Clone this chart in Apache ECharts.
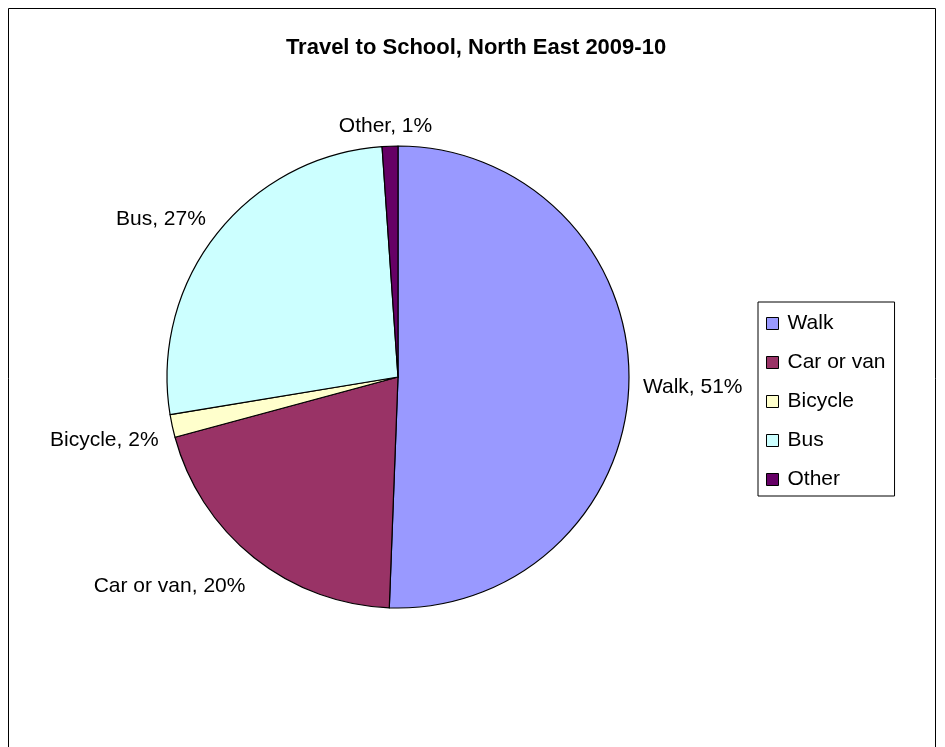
<!DOCTYPE html>
<html>
<head>
<meta charset="utf-8">
<script src="https://cdn.jsdelivr.net/npm/echarts@6/dist/echarts.min.js"></script>
<style>
html,body{margin:0;padding:0;background:#fff;}
#chart{width:945px;height:747px;}
</style>
</head>
<body>
<div id="chart"></div>
<script>
var categories = ['Walk', 'Car or van', 'Bicycle', 'Bus', 'Other'];
var values = [50.6, 20.2, 1.6, 26.5, 1.1];
var colors = ['#9999FF', '#993366', '#FFFFCC', '#CCFFFF', '#660066'];
var titleText = 'Travel to School, North East 2009-10';

var chart = echarts.init(document.getElementById('chart'));
var font = 'Liberation Sans, Arial, sans-serif';
var CENTER = [398, 377];
var RADIUS = 231;
var LABEL_GAP = 14;
var LABEL_DROP = 5;

var data = categories.map(function (c, i) {
  return { name: c, value: values[i], itemStyle: { color: colors[i] } };
});

function clamp(v) { return Math.max(-1, Math.min(1, v)); }

// Excel-style label placement: anchor just outside the rim at the slice's mid angle,
// label box pushed away from the pie in that direction.
function excelLabelLayout(params) {
  var lay = null;
  try {
    lay = chart.getModel().getSeriesByIndex(0).getData().getItemLayout(params.dataIndex);
  } catch (e) { lay = null; }
  if (!lay) return {};
  var mid = (lay.startAngle + lay.endAngle) / 2;
  var ux = Math.cos(mid), uy = Math.sin(mid);
  var rr = lay.r + LABEL_GAP;
  var ax = lay.cx + rr * ux, ay = lay.cy + rr * uy;
  var w = params.labelRect.width, h = params.labelRect.height;
  return {
    x: ax + clamp(ux * 2.5) * w / 2,
    y: ay + clamp(uy * 2.5) * h / 2 + LABEL_DROP + Math.max(0, uy) * 3,
    align: 'center',
    verticalAlign: 'middle'
  };
}

chart.setOption({
  animation: false,
  title: {
    text: titleText,
    left: 471, top: 32, textAlign: 'center',
    textStyle: { fontFamily: font, fontSize: 22, fontWeight: 'bold', color: '#000' }
  },
  graphic: [{
    type: 'rect', silent: true,
    shape: { x: 8.5, y: 8.5, width: 927, height: 800 },
    style: { fill: null, stroke: '#000', lineWidth: 1 }
  }],
  legend: {
    orient: 'vertical',
    left: 758, top: 302,
    padding: [11, 9, 6, 8],
    itemGap: 18,
    itemWidth: 12, itemHeight: 12,
    borderColor: '#000', borderWidth: 1,
    icon: 'rect',
    itemStyle: { borderColor: '#000', borderWidth: 1 },
    textStyle: { fontFamily: font, fontSize: 21, lineHeight: 20, color: '#000', padding: [0, 0, 0, 4] },
    data: categories
  },
  series: [{
    type: 'pie',
    center: CENTER,
    radius: RADIUS,
    startAngle: 90,
    clockwise: true,
    data: data,
    itemStyle: { borderColor: '#000', borderWidth: 1.2 },
    label: {
      show: true, position: 'outside',
      fontFamily: font, fontSize: 21, color: '#000',
      formatter: function (p) { return p.name + ', ' + Math.round(p.percent) + '%'; }
    },
    labelLine: { show: false, length: 10, length2: 0 },
    labelLayout: excelLabelLayout,
    emphasis: { disabled: true }
  }]
});
</script>
</body>
</html>
